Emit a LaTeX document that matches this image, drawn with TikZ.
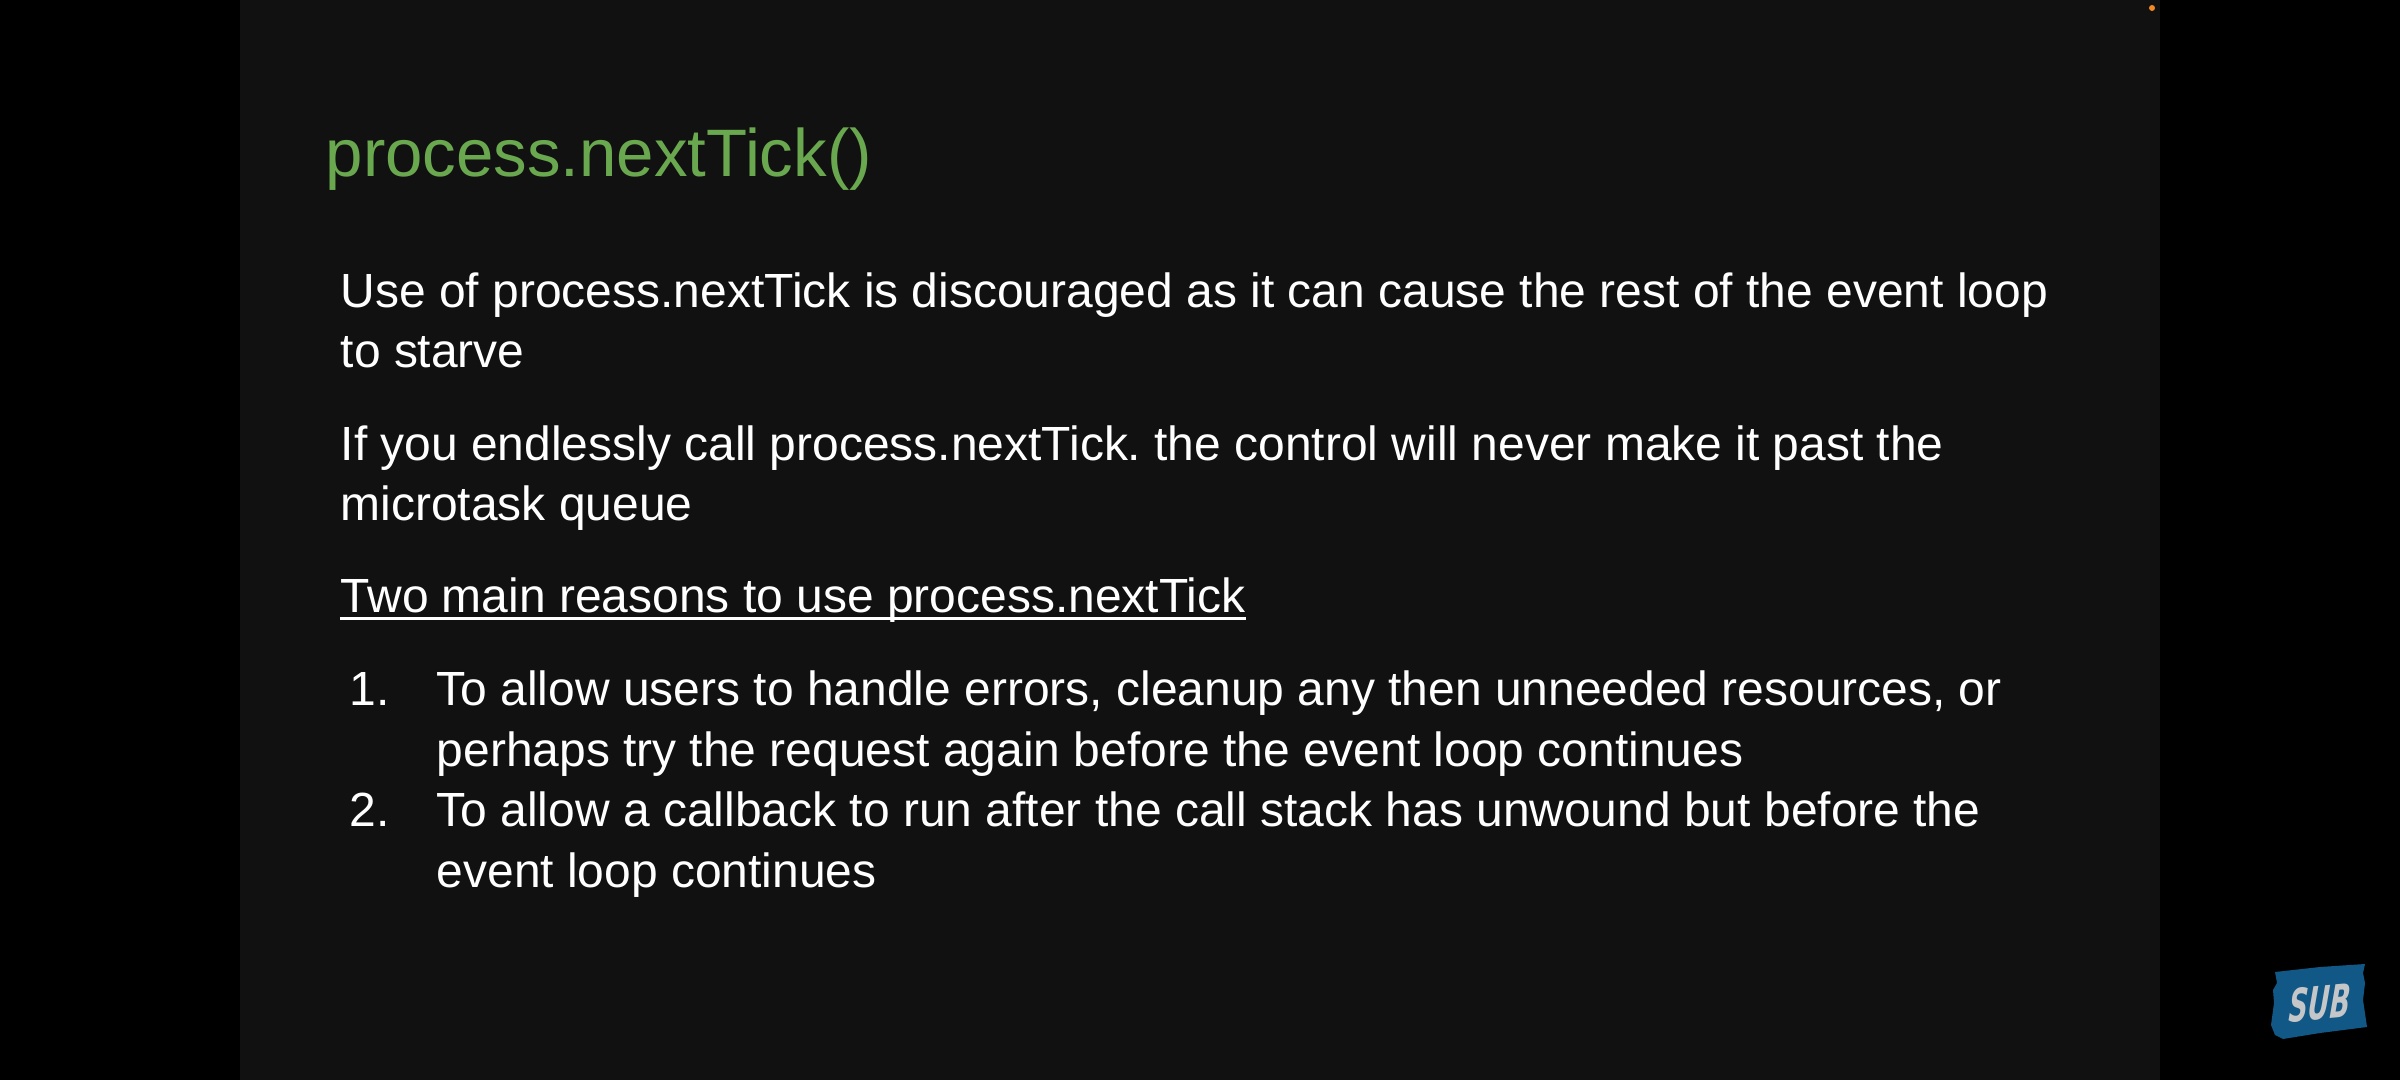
\documentclass[tikz,border=0pt]{standalone}
\usepackage{fontspec}
\usepackage{xcolor}
\usepackage{tikz}
\setmainfont{Liberation Sans}
\newfontfamily\badgefont{DejaVu Sans}
\frenchspacing
\definecolor{slidebg}{HTML}{111111}
\definecolor{titlegreen}{HTML}{6AA84F}
\definecolor{subblue}{HTML}{115887}
\definecolor{subgrey}{HTML}{C4C6C8}
\definecolor{dotorange}{HTML}{F08A24}
\tikzset{
	bodyline/.style={anchor=base west, inner sep=0pt, text=white, font=\fontsize{13.64pt}{13.64pt}\selectfont},
	titleline/.style={anchor=base west, inner sep=0pt, text=titlegreen, font=\fontsize{19.1pt}{19.1pt}\selectfont},
}

\begin{document}
\begin{tikzpicture}[x=0.01cm, y=-0.01cm]
			\useasboundingbox (0,0) rectangle (2400,1080);
			\fill[black] (0,0) rectangle (2400,1080);
			\fill[slidebg] (240,0) rectangle (2160,1080);
			\fill[dotorange] (2152,8) circle (3);
			\node[titleline] (title) at (325,177) {process.nextTick()};
			\node[bodyline] (use1) at (340,308) {Use of process.nextTick is discouraged as it can cause the rest of the event loop};
			\node[bodyline] (use2) at (340,368) {to starve};
			\node[bodyline] (call1) at (340,461) {If you endlessly call process.nextTick. the control will never make it past the};
			\node[bodyline] (call2) at (340,521) {microtask queue};
			\node[bodyline] (head) at (340,613) {Two main reasons to use process.nextTick};
			\draw[white, line width=1pt] ([yshift=-1.5pt]head.base west) -- ([yshift=-1.5pt]head.base east);
			\node[bodyline] (num1) at (349,706) {1.};
			\node[bodyline] (item1a) at (436,706) {To allow users to handle errors, cleanup any then unneeded resources, or};
			\node[bodyline] (item1b) at (436,767) {perhaps try the request again before the event loop continues};
			\node[bodyline] (num2) at (349,827) {2.};
			\node[bodyline] (item2a) at (436,827) {To allow a callback to run after the call stack has unwound but before the};
			\node[bodyline] (item2b) at (436,888) {event loop continues};
			% badge
			\fill[subblue] (2275,972) -- (2320,967) -- (2365,964) -- (2363,973) -- (2365,983) -- (2363,1000) -- (2367,1027) -- (2320,1033) -- (2283,1039) -- (2275,1035) -- (2271,1025) -- (2274,1003) -- (2273,990) -- (2277,983) -- cycle;
			\node[rotate=5, inner sep=0pt, text=subgrey, xslant=0.15, xscale=0.59, font=\badgefont\fontsize{12.9pt}{12.9pt}\selectfont\bfseries\itshape] (sub) at (2320,1003) {SUB};
		\end{tikzpicture}
\end{document}
